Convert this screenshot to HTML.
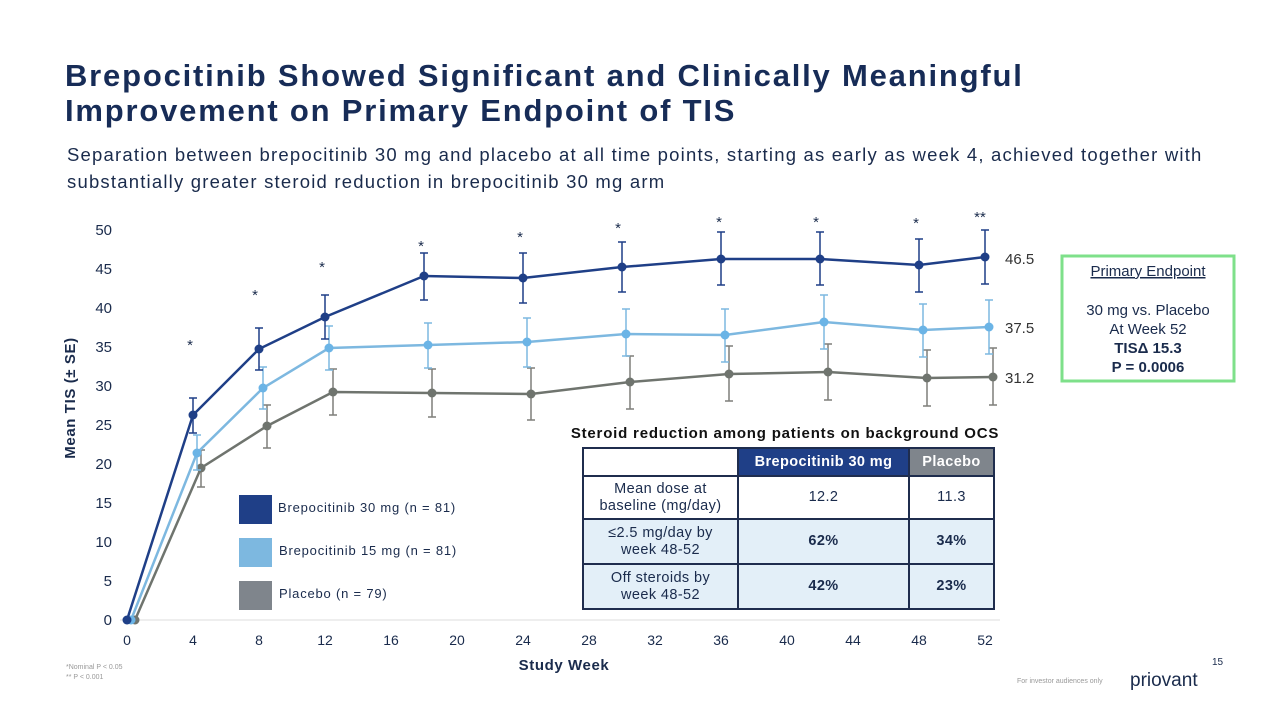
<!DOCTYPE html><html><head><style>
body{margin:0;width:1269px;height:713px;background:#fff;font-family:"Liberation Sans",sans-serif;position:relative;overflow:hidden;color:#1a2b4c}
.a{position:absolute}
h1{position:absolute;left:65px;top:58px;margin:0;font-size:31px;line-height:35px;font-weight:bold;color:#172c57;letter-spacing:1.8px}
.sub{left:67px;top:141px;font-size:18.5px;line-height:27px;color:#1a2b4c;letter-spacing:1.2px}
table{border-collapse:collapse;position:absolute;left:582px;top:447px;font-size:14.5px;text-align:center;letter-spacing:0.4px}
td{border:2px solid #1f2d4e;padding:0;line-height:17px}
</style></head><body>
<h1>Brepocitinib Showed Significant and Clinically Meaningful<br>Improvement on Primary Endpoint of TIS</h1>
<div class="a sub">Separation between brepocitinib 30 mg and placebo at all time points, starting as early as week 4, achieved together with<br>substantially greater steroid reduction in brepocitinib 30 mg arm</div>
<svg class="a" style="left:0;top:0" width="1269" height="713" font-family="Liberation Sans, sans-serif">
<line x1="120" y1="620" x2="1000" y2="620" stroke="#ddd"/>
<g font-size="15" fill="#1a2b4c" text-anchor="end">
<text x="112" y="625">0</text><text x="112" y="586">5</text><text x="112" y="547">10</text><text x="112" y="508">15</text><text x="112" y="469">20</text><text x="112" y="430">25</text><text x="112" y="391">30</text><text x="112" y="352">35</text><text x="112" y="313">40</text><text x="112" y="274">45</text><text x="112" y="235">50</text></g>
<g font-size="14" fill="#1a2b4c" text-anchor="middle">
<text x="127" y="645">0</text><text x="193" y="645">4</text><text x="259" y="645">8</text><text x="325" y="645">12</text><text x="391" y="645">16</text><text x="457" y="645">20</text><text x="523" y="645">24</text><text x="589" y="645">28</text><text x="655" y="645">32</text><text x="721" y="645">36</text><text x="787" y="645">40</text><text x="853" y="645">44</text><text x="919" y="645">48</text><text x="985" y="645">52</text></g>
<text x="564" y="670" font-size="15" font-weight="bold" text-anchor="middle" fill="#1a2b4c" letter-spacing="0.6">Study Week</text>
<text transform="translate(75,398) rotate(-90)" font-size="15" font-weight="bold" text-anchor="middle" fill="#1a2b4c" letter-spacing="0.6">Mean TIS (± SE)</text>
<g stroke="#7f7f7a" stroke-width="1.5" fill="none">
<path d="M201 450V487M267 405V448M333 369V415M432 369V417M531 368V420M630 356V409M729 346V401M828 344V400M927 350V406M993 348V405M197 450h8M197 487h8M263 405h8M263 448h8M329 369h8M329 415h8M428 369h8M428 417h8M527 368h8M527 420h8M626 356h8M626 409h8M725 346h8M725 401h8M824 344h8M824 400h8M923 350h8M923 406h8M989 348h8M989 405h8"/>
<polyline stroke="#6f746e" stroke-width="2.5" points="135,620 201,468 267,426 333,392 432,393 531,394 630,382 729,374 828,372 927,378 993,377"/></g>
<g fill="#6f746e"><circle cx="135" cy="620" r="4.5"/><circle cx="201" cy="468" r="4.5"/><circle cx="267" cy="426" r="4.5"/><circle cx="333" cy="392" r="4.5"/><circle cx="432" cy="393" r="4.5"/><circle cx="531" cy="394" r="4.5"/><circle cx="630" cy="382" r="4.5"/><circle cx="729" cy="374" r="4.5"/><circle cx="828" cy="372" r="4.5"/><circle cx="927" cy="378" r="4.5"/><circle cx="993" cy="377" r="4.5"/></g>
<g stroke="#7db8e0" stroke-width="1.5" fill="none">
<path d="M197 435V470M263 367V409M329 326V370M428 323V368M527 318V367M626 309V356M725 309V362M824 295V349M923 304V357M989 300V354M193 435h8M193 470h8M259 367h8M259 409h8M325 326h8M325 370h8M424 323h8M424 368h8M523 318h8M523 367h8M622 309h8M622 356h8M721 309h8M721 362h8M820 295h8M820 349h8M919 304h8M919 357h8M985 300h8M985 354h8"/>
<polyline stroke="#7db8e0" stroke-width="2.5" points="131,620 197,453 263,388 329,348 428,345 527,342 626,334 725,335 824,322 923,330 989,327"/></g>
<g fill="#6bb4e6"><circle cx="131" cy="620" r="4.5"/><circle cx="197" cy="453" r="4.5"/><circle cx="263" cy="388" r="4.5"/><circle cx="329" cy="348" r="4.5"/><circle cx="428" cy="345" r="4.5"/><circle cx="527" cy="342" r="4.5"/><circle cx="626" cy="334" r="4.5"/><circle cx="725" cy="335" r="4.5"/><circle cx="824" cy="322" r="4.5"/><circle cx="923" cy="330" r="4.5"/><circle cx="989" cy="327" r="4.5"/></g>
<g stroke="#1f3f87" stroke-width="1.5" fill="none">
<path d="M193 398V433M259 328V370M325 295V339M424 253V300M523 253V303M622 242V292M721 232V285M820 232V285M919 239V292M985 230V284M189 398h8M189 433h8M255 328h8M255 370h8M321 295h8M321 339h8M420 253h8M420 300h8M519 253h8M519 303h8M618 242h8M618 292h8M717 232h8M717 285h8M816 232h8M816 285h8M915 239h8M915 292h8M981 230h8M981 284h8"/>
<polyline stroke="#1f3f87" stroke-width="2.5" points="127,620 193,415 259,349 325,317 424,276 523,278 622,267 721,259 820,259 919,265 985,257"/></g>
<g fill="#1f3f87"><circle cx="127" cy="620" r="4.5"/><circle cx="193" cy="415" r="4.5"/><circle cx="259" cy="349" r="4.5"/><circle cx="325" cy="317" r="4.5"/><circle cx="424" cy="276" r="4.5"/><circle cx="523" cy="278" r="4.5"/><circle cx="622" cy="267" r="4.5"/><circle cx="721" cy="259" r="4.5"/><circle cx="820" cy="259" r="4.5"/><circle cx="919" cy="265" r="4.5"/><circle cx="985" cy="257" r="4.5"/></g>
<g font-size="15" fill="#1a2b4c" text-anchor="middle">
<text x="190" y="350">*</text><text x="255" y="300">*</text><text x="322" y="272">*</text><text x="421" y="251">*</text><text x="520" y="242">*</text><text x="618" y="233">*</text><text x="719" y="227">*</text><text x="816" y="227">*</text><text x="916" y="228">*</text><text x="980" y="222">**</text></g>
<g font-size="15" fill="#333"><text x="1005" y="264">46.5</text><text x="1005" y="333">37.5</text><text x="1005" y="383">31.2</text></g>
<rect x="239" y="495" width="33" height="29" fill="#1f3f87"/><rect x="239" y="538" width="33" height="29" fill="#7db8e0"/><rect x="239" y="581" width="33" height="29" fill="#7f858c"/>
<g font-size="13" fill="#1a2b4c" letter-spacing="0.8"><text x="278" y="512">Brepocitinib 30 mg (n = 81)</text><text x="279" y="555">Brepocitinib 15 mg (n = 81)</text><text x="279" y="598">Placebo (n = 79)</text></g>
<text x="785" y="438" font-size="15" font-weight="bold" text-anchor="middle" fill="#111" letter-spacing="0.8">Steroid reduction among patients on background OCS</text>
<rect x="1062" y="256" width="172" height="125" fill="none" stroke="#7ee08a" stroke-width="3"/>
<g font-size="15" fill="#1a2b4c" text-anchor="middle"><text x="1148" y="276" text-decoration="underline">Primary Endpoint</text><text x="1148" y="315">30 mg vs. Placebo</text><text x="1148" y="334">At Week 52</text><text x="1148" y="353" font-weight="bold">TISΔ 15.3</text><text x="1148" y="372" font-weight="bold">P = 0.0006</text></g>
<text x="66" y="669" font-size="7" fill="#999">*Nominal P &lt; 0.05</text><text x="66" y="679" font-size="7" fill="#999">** P &lt; 0.001</text>
<text x="1017" y="683" font-size="7" fill="#999">For investor audiences only</text>
<text x="1130" y="686" font-size="19" fill="#1a2b4c">priovant</text>
<text x="1212" y="665" font-size="10" fill="#1a2b4c">15</text>
</svg>
<table>
<tr style="height:28px"><td style="width:153px"></td><td style="width:169px;background:#1f3f87;color:#fff;font-weight:bold">Brepocitinib 30 mg</td><td style="width:83px;background:#7f858c;color:#fff;font-weight:bold">Placebo</td></tr>
<tr style="height:43px"><td>Mean dose at<br>baseline (mg/day)</td><td>12.2</td><td>11.3</td></tr>
<tr style="height:45px;background:#e3eff8"><td>≤2.5 mg/day by<br>week 48-52</td><td><b>62%</b></td><td><b>34%</b></td></tr>
<tr style="height:45px;background:#e3eff8"><td>Off steroids by<br>week 48-52</td><td><b>42%</b></td><td><b>23%</b></td></tr>
</table>
</body></html>
